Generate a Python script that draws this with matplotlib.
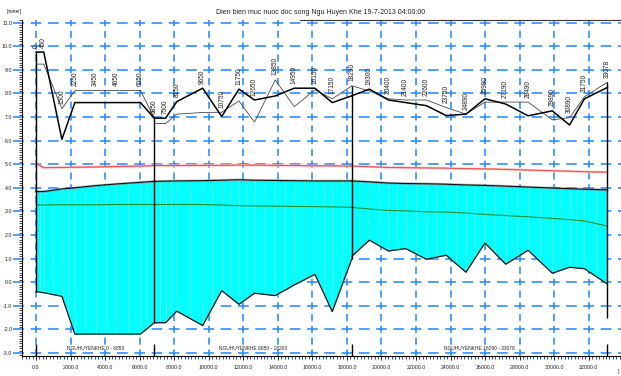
import numpy as np
import matplotlib
matplotlib.use("Agg")
import matplotlib.pyplot as plt
from matplotlib.lines import Line2D
from matplotlib.ticker import MultipleLocator, FormatStrFormatter
import matplotlib.transforms as mtransforms

plt.rcParams['font.family'] = ['Liberation Sans', 'DejaVu Sans']
plt.rcParams['axes.unicode_minus'] = False
plt.rcParams['lines.scale_dashes'] = False

# ---- chainages of each branch [m] ----
ch_b1 = [0, 450, 1500, 2250, 3450, 4650, 6050, 6850]
ch_b2 = [6850, 7500, 8150, 9650, 10750, 11750, 12650, 13850, 14950, 16150, 17150, 18290]
ch_b3 = [18290, 19300, 20400, 21400, 22600, 23750, 24890, 25990, 27190, 28490,
         29890, 30890, 31750, 33078]

# ---- left bank (thick) and right bank (thin) levels [m] ----
lb_b1 = [9.75, 9.75, 6.05, 7.61, 7.61, 7.61, 7.61, 6.95]
rb_b1 = [9.24, 9.24, 7.35, 8.12, 8.12, 8.12, 8.12, 6.95]
lb_b2 = [6.95, 6.95, 7.65, 8.22, 7.02, 8.18, 7.72, 7.89, 8.22, 8.22, 7.61, 7.90]
rb_b2 = [6.72, 6.72, 7.12, 7.19, 7.20, 7.68, 6.78, 8.57, 7.44, 8.15, 7.77, 8.32]
lb_b3 = [7.90, 8.18, 7.72, 7.61, 7.48, 7.06, 7.12, 7.77, 7.55, 7.05, 7.26, 6.66, 7.77, 8.25]
rb_b3 = [8.32, 8.10, 7.77, 7.72, 7.72, 7.40, 7.12, 7.63, 7.63, 7.63, 6.88, 6.97, 7.86, 8.47]

# ---- bed level [m] ----
bed_b1 = [-0.40, -0.45, -0.60, -2.20, -2.20, -2.20, -2.20, -1.72]
bed_b2 = [-1.72, -1.72, -1.23, -1.84, -0.36, -0.94, -0.47, -0.57, -0.12, 0.33, -1.25, 1.00]
bed_b3 = [1.10, 1.78, 1.32, 1.42, 0.97, 1.14, 0.42, 1.66, 0.76, 1.35, 0.38, 0.63, 0.57, -0.08]
outlet_bottom = -1.5

# ---- water level at 19-7-2013 04:00 [m] ----
wl_b1 = [3.84, 3.84, 3.95, 4.00, 4.09, 4.16, 4.23, 4.27]
wl_b2 = [4.27, 4.28, 4.29, 4.30, 4.32, 4.34, 4.32, 4.31, 4.30, 4.29, 4.29, 4.29]
wl_b3 = [4.29, 4.25, 4.20, 4.18, 4.17, 4.15, 4.12, 4.10, 4.07, 4.03, 3.99, 3.96, 3.94, 3.91]

# ---- maximum level (red) and minimum level (green) [m] ----
hmax_b1 = [5.04, 4.85, 4.86, 4.87, 4.88, 4.90, 4.92, 4.94]
hmax_b2 = [4.94, 4.94, 4.94, 4.95, 4.95, 4.96, 4.96, 4.95, 4.94, 4.93, 4.93, 4.92]
hmax_b3 = [4.92, 4.89, 4.86, 4.85, 4.84, 4.83, 4.81, 4.80, 4.78, 4.75, 4.72, 4.70, 4.68, 4.66]
hmin_b1 = [3.27, 3.27, 3.28, 3.28, 3.28, 3.29, 3.29, 3.29]
hmin_b2 = [3.29, 3.29, 3.29, 3.29, 3.27, 3.24, 3.23, 3.22, 3.21, 3.20, 3.19, 3.17]
hmin_b3 = [3.17, 3.10, 3.04, 3.02, 2.98, 2.97, 2.93, 2.87, 2.82, 2.77, 2.70, 2.65, 2.59, 2.38]

branch_name = "NGUHUYENKHE"
title = "Dien bien muc nuoc doc song Ngu Huyen Khe 19-7-2013 04:00:00"
y_unit = "[meter]"

x_ticks = np.arange(0, 32001, 2000)
y_ticks = np.arange(-3, 12, 1)

branches = [
    dict(ch=ch_b1, lb=lb_b1, rb=rb_b1, bed=bed_b1, wl=wl_b1, hmax=hmax_b1, hmin=hmin_b1),
    dict(ch=ch_b2, lb=lb_b2, rb=rb_b2, bed=bed_b2, wl=wl_b2, hmax=hmax_b2, hmin=hmin_b2),
    dict(ch=ch_b3, lb=lb_b3, rb=rb_b3, bed=bed_b3, wl=wl_b3, hmax=hmax_b3, hmin=hmin_b3),
]

W, H = 621, 376
fig = plt.figure(figsize=(W / 100, H / 100), dpi=100)
ax = fig.add_axes([22 / W, 20 / H, 599 / W, 336 / H])
ax.set_xlim(-810, 33867)
ax.set_ylim(-3.13, 11.11)

GRID = '#1E88FF'
TXT = '#222222'

# ---- dashed grid, dashes centred on the crossings ----
px2pt = 72.0 / fig.dpi
def dash_style(start, first_cross, period, frac):
    on = period * frac
    off = period - on
    d0 = first_cross - on / 2.0
    off0 = (start - d0) % period
    return (off0 * px2pt, (on * px2pt, off * px2pt))

tr = ax.transData
x0_disp = ax.transAxes.transform((0, 0))[0]
y0_disp = ax.transAxes.transform((0, 0))[1]
xc0 = tr.transform((x_ticks[0], 0))[0]
per_h = (tr.transform((x_ticks[1], 0))[0] - xc0) / 2.0
yc0 = tr.transform((0, y_ticks[0]))[1]
per_v = (tr.transform((0, y_ticks[1]))[1] - yc0) / 2.0

for yv in y_ticks:
    ax.axhline(yv, color=GRID, lw=1.1, zorder=0.5,
               linestyle=dash_style(x0_disp, xc0, per_h, 0.62))
for xv in x_ticks:
    ax.axvline(xv, color=GRID, lw=1.1, zorder=0.5,
               linestyle=dash_style(y0_disp, yc0, per_v, 0.6))

# ---- water body, bed and levels ----
for b in branches:
    ch = np.array(b['ch'], float)
    bed = np.array(b['bed'], float)
    wl = np.array(b['wl'], float)
    ax.fill_between(ch, bed, wl, color='#00FFFF', lw=0, zorder=2)
    # computational points inside the water body
    pts = np.concatenate([ch[1:-1], (ch[:-1] + ch[1:]) / 2.0])
    ax.vlines(pts, np.interp(pts, ch, bed), np.interp(pts, ch, wl),
              color='white', lw=0.5, alpha=0.45, zorder=2.2)
    ax.plot(ch, wl, color='#7a7a7a', lw=1.8, alpha=0.5, zorder=3)
    ax.plot(ch, wl, color='#111111', lw=0.8, zorder=3.1)
    ax.plot(ch, bed, color='#111111', lw=0.9, zorder=3.2)
    ax.plot(ch, b['hmin'], color='#1F8F2F', lw=0.8, zorder=3.3)
    ax.plot(ch, b['hmax'], color='#FFB0B0', lw=1.6, zorder=3.3)
    ax.plot(ch, b['hmax'], color='#F03A3A', lw=0.6, zorder=3.4)
    ax.plot(ch, b['rb'], color='#4a4a4a', lw=0.6, zorder=4)
    ax.plot(ch, b['lb'], color='#000000', lw=1.1, zorder=4.1)

# ---- branch boundaries ----
bnd_x, bnd_top, bnd_bot = [], [], []
for i, b in enumerate(branches):
    if i == 0:
        bnd_x.append(b['ch'][0])
        bnd_top.append(max(b['lb'][0], b['rb'][0]))
        bnd_bot.append(b['bed'][0])
    nxt = branches[i + 1] if i + 1 < len(branches) else None
    bnd_x.append(b['ch'][-1])
    tops = [b['lb'][-1], b['rb'][-1]]
    bots = [b['bed'][-1]]
    if nxt is not None:
        tops += [nxt['lb'][0], nxt['rb'][0]]
        bots += [nxt['bed'][0]]
    else:
        bots += [outlet_bottom]
    bnd_top.append(max(tops))
    bnd_bot.append(min(bots))
ax.vlines(bnd_x, bnd_bot, bnd_top, color='black', lw=1.0, zorder=5)
blend = mtransforms.blended_transform_factory(ax.transData, ax.transAxes)
ax.vlines(bnd_x, 0, 0.036, color='black', lw=1.0, transform=blend, zorder=5)

# ---- branch names ----
for b in branches:
    mid = (b['ch'][0] + b['ch'][-1]) / 2.0
    ax.text(mid, 0.023, f"{branch_name} {b['ch'][0]} - {b['ch'][-1]}", transform=blend,
            ha='center', va='center', fontsize=3.5, color=TXT, zorder=6)

# ---- chainage labels above the banks ----
seen = set()
for b in branches:
    for c, l, r in zip(b['ch'], b['lb'], b['rb']):
        if c in seen:
            continue
        seen.add(c)
        top = max(l, r)
        ax.annotate(str(c), (c, top), xytext=(0, 3.2), textcoords='offset points',
                    rotation=90, ha='center', va='bottom', fontsize=4.7,
                    color=TXT, zorder=6)

# ---- axes styling ----
for s in ['top', 'right']:
    ax.spines[s].set_visible(False)
ax.spines['left'].set_linewidth(0.8)
ax.spines['bottom'].set_linewidth(0.8)
ax.set_xticks(x_ticks)
ax.set_yticks(y_ticks)
ax.xaxis.set_major_formatter(FormatStrFormatter('%.1f'))
ax.yaxis.set_major_formatter(FormatStrFormatter('%.1f'))
ax.xaxis.set_minor_locator(MultipleLocator(200))
ax.yaxis.set_minor_locator(MultipleLocator(0.1))
ax.tick_params(axis='y', which='major', length=6.3, width=1.1, color=GRID,
               labelsize=3.8, labelcolor=TXT, pad=0.6)
ax.tick_params(axis='y', which='minor', length=2.2, width=0.5, color='black')
ax.tick_params(axis='x', which='major', length=2.6, width=0.6, color='black',
               labelsize=3.8, labelcolor=TXT, pad=3.6)
ax.tick_params(axis='x', which='minor', length=2.0, width=0.5, color='black')

# ---- titles ----
fig.text(321 / W, 1 - 13 / H, title, ha='center', va='center', fontsize=5.0, color=TXT)
fig.text(7 / W, 1 - 11 / H, y_unit, ha='left', va='center', fontsize=3.4, color=TXT)
fig.add_artist(Line2D([300 / W, 1.0], [1 - 20 / H, 1 - 20 / H], color='#333333', lw=0.8))
fig.text(619 / W, 1 - 371 / H, ']', ha='center', va='center', fontsize=3.5, color=TXT)

fig.savefig('out.png', dpi=100)
